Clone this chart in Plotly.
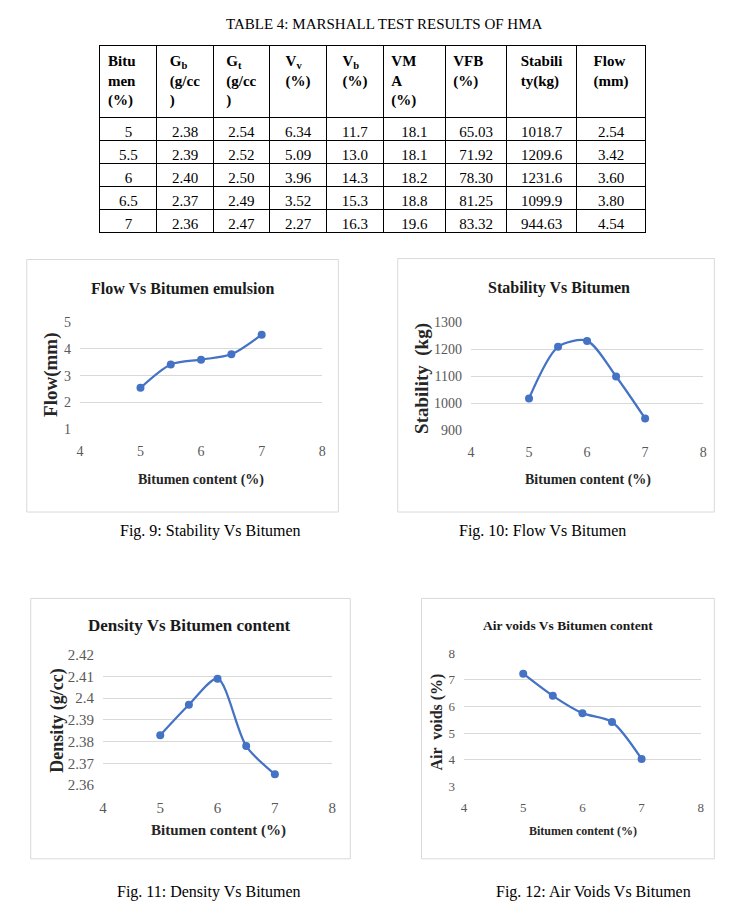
import plotly.graph_objects as go

W, H = 750, 914

# ---------------- data ----------------
bitumen = [5, 5.5, 6, 6.5, 7]
flow_mm = [2.54, 3.42, 3.60, 3.80, 4.54]
stability_kg = [1018.7, 1209.6, 1231.6, 1099.9, 944.63]
density_gcc = [2.383, 2.397, 2.409, 2.378, 2.365]
air_voids_pct = [7.23, 6.40, 5.75, 5.42, 4.03]

x_ticks = [4, 5, 6, 7, 8]
flow_ticks = [1, 2, 3, 4, 5]
stab_ticks = [900, 1000, 1100, 1200, 1300]
dens_ticks = [2.36, 2.37, 2.38, 2.39, 2.40, 2.41, 2.42]
av_ticks = [3, 4, 5, 6, 7, 8]

table_headers = [
    "<b>Bitu<br>men<br>(%)</b>",
    "<b>G<sub>b</sub><br>(g/cc<br>)</b>",
    "<b>G<sub>t</sub><br>(g/cc<br>)</b>",
    "<b>V<sub>v</sub><br>(%)</b>",
    "<b>V<sub>b</sub><br>(%)</b>",
    "<b>VM<br>A<br>(%)</b>",
    "<b>VFB<br>(%)</b>",
    "<b>Stabili<br>ty(kg)</b>",
    "<b>Flow<br>(mm)</b>",
]
col_bitumen = ["5", "5.5", "6", "6.5", "7"]
col_gb = ["2.38", "2.39", "2.40", "2.37", "2.36"]
col_gt = ["2.54", "2.52", "2.50", "2.49", "2.47"]
col_vv = ["6.34", "5.09", "3.96", "3.52", "2.27"]
col_vb = ["11.7", "13.0", "14.3", "15.3", "16.3"]
col_vma = ["18.1", "18.1", "18.2", "18.8", "19.6"]
col_vfb = ["65.03", "71.92", "78.30", "81.25", "83.32"]
col_stab = ["1018.7", "1209.6", "1231.6", "1099.9", "944.63"]
col_flow = ["2.54", "3.42", "3.60", "3.80", "4.54"]

SERIF = "Liberation Serif"
BLUE = "#4472C4"
GRID = "#d9d9d9"
TICKC = "#595959"


def px_x(v):
    return v / W


def px_y(v):
    return 1 - v / H


fig = go.Figure()

# ---------------- table ----------------
col_borders = [97, 154.5, 211.5, 268.5, 326, 383.5, 446, 508.5, 578.5, 649]
col_w = [col_borders[i + 1] - col_borders[i] for i in range(len(col_borders) - 1)]
fig.add_trace(go.Table(
    domain=dict(x=[px_x(col_borders[0]), px_x(col_borders[-1])],
                y=[px_y(250), px_y(38)]),
    columnwidth=col_w,
    header=dict(
        values=table_headers,
        align=["left", "center", "center", "center", "center", "left", "left", "center", "center"],
        height=72,
        line=dict(color="black", width=1),
        fill=dict(color="white"),
        font=dict(family=SERIF, size=15, color="black"),
    ),
    cells=dict(
        values=[col_bitumen, col_gb, col_gt, col_vv, col_vb, col_vma, col_vfb, col_stab, col_flow],
        align="center",
        height=23,
        line=dict(color="black", width=1),
        fill=dict(color="white"),
        font=dict(family=SERIF, size=15, color="black"),
    ),
))

# ---------------- charts ----------------
charts = [
    dict(y=flow_mm, ticks=flow_ticks, rng=[1, 5],
         plot=(76.7, 321.7, 320, 428.3), frame=(23, 338, 256, 513),
         title="Flow Vs Bitumen emulsion", tpos=(180, 285), tsize=16,
         xt="Bitumen content (%)", xtpos=(199, 480), xtsize=14,
         yt="Flow(mm)", ytpos=(48, 373), ytsize=19, tick=14),
    dict(y=stability_kg, ticks=stab_ticks, rng=[900, 1300],
         plot=(472, 706.7, 320, 430), frame=(398, 718, 255, 513),
         title="Stability Vs Bitumen", tpos=(561, 285), tsize=16,
         xt="Bitumen content (%)", xtpos=(590, 480), xtsize=14,
         yt="Stability  (kg)", ytpos=(423, 377), ytsize=19, tick=14),
    dict(y=density_gcc, ticks=dens_ticks, rng=[2.36, 2.42],
         plot=(100, 331.7, 658.3, 791), frame=(27, 350, 601, 866),
         title="Density Vs Bitumen content", tpos=(188, 628), tsize=17,
         xt="Bitumen content (%)", xtpos=(217, 837), xtsize=15,
         yt="Density (g/cc)", ytpos=(54, 725), ytsize=18, tick=15),
    dict(y=air_voids_pct, ticks=av_ticks, rng=[3, 8],
         plot=(465, 704.3, 656.7, 792.3), frame=(422, 718, 601, 866),
         title="Air voids Vs Bitumen content", tpos=(570, 628), tsize=13.5,
         xt="Bitumen content (%)", xtpos=(585, 838), xtsize=12,
         yt="Air  voids (%)", ytpos=(438, 727), ytsize=16, tick=13),
]

shapes = []
annotations = []
for i, c in enumerate(charts, start=1):
    xa = "x" if i == 1 else f"x{i}"
    ya = "y" if i == 1 else f"y{i}"
    l, r, t, b = c["plot"]
    fl, fr, ft, fb = c["frame"]
    shapes.append(dict(type="rect", xref="paper", yref="paper", layer="below",
                       x0=px_x(fl), x1=px_x(fr), y0=px_y(fb), y1=px_y(ft),
                       line=dict(color=GRID, width=1), fillcolor="white"))
    fig.add_trace(go.Scatter(
        x=bitumen, y=c["y"], xaxis=xa, yaxis=ya, mode="lines+markers",
        line=dict(color=BLUE, width=2.25, shape="spline", smoothing=0.8),
        marker=dict(color=BLUE, size=8), showlegend=False, cliponaxis=False,
    ))
    fig.layout[f"xaxis{'' if i == 1 else i}"] = dict(
        domain=[px_x(l), px_x(r)], range=[4, 8], anchor=ya,
        tickvals=x_ticks, showgrid=False, zeroline=False, showline=False,
        ticks="", ticklabelstandoff=12,
        tickfont=dict(family=SERIF, size=c["tick"], color=TICKC), fixedrange=True)
    fig.layout[f"yaxis{'' if i == 1 else i}"] = dict(
        domain=[px_y(b), px_y(t)], range=c["rng"], anchor=xa,
        tickvals=c["ticks"], showgrid=True, gridcolor=GRID, gridwidth=1,
        zeroline=False, showline=False, ticks="", ticklabelstandoff=8,
        tickfont=dict(family=SERIF, size=c["tick"], color=TICKC), fixedrange=True)
    annotations.append(dict(text=f"<b>{c['title']}</b>", xref="paper", yref="paper",
                            x=px_x(c["tpos"][0]), y=px_y(c["tpos"][1]),
                            xanchor="center", yanchor="middle", showarrow=False,
                            font=dict(family=SERIF, size=c["tsize"], color="#1a1a1a")))
    annotations.append(dict(text=f"<b>{c['xt']}</b>", xref="paper", yref="paper",
                            x=px_x(c["xtpos"][0]), y=px_y(c["xtpos"][1]),
                            xanchor="center", yanchor="middle", showarrow=False,
                            font=dict(family=SERIF, size=c["xtsize"], color="#262626")))
    annotations.append(dict(text=f"<b>{c['yt']}</b>", xref="paper", yref="paper",
                            x=px_x(c["ytpos"][0]), y=px_y(c["ytpos"][1]),
                            xanchor="center", yanchor="middle", showarrow=False,
                            textangle=-90,
                            font=dict(family=SERIF, size=c["ytsize"], color="#262626")))

# ---------------- texts ----------------
texts = [
    ("TABLE 4: MARSHALL TEST RESULTS OF HMA", 385, 16, 15),
    ("Fig. 9: Stability Vs Bitumen", 209, 532, 16),
    ("Fig. 10: Flow Vs Bitumen", 544, 532, 16),
    ("Fig. 11: Density Vs Bitumen", 207, 900, 16),
    ("Fig. 12: Air Voids Vs Bitumen", 596, 900, 16),
]
for txt, x, y, s in texts:
    annotations.append(dict(text=txt, xref="paper", yref="paper",
                            x=px_x(x), y=px_y(y), xanchor="center", yanchor="middle",
                            showarrow=False, font=dict(family=SERIF, size=s, color="black")))

fig.update_layout(
    width=W, height=H, margin=dict(l=0, r=0, t=0, b=0),
    paper_bgcolor="white", plot_bgcolor="rgba(0,0,0,0)",
    shapes=shapes, annotations=annotations, showlegend=False,
)

fig.write_html("out.html", config={"displayModeBar": False},
               post_script="document.body.style.margin='0';document.body.style.overflow='hidden';")
